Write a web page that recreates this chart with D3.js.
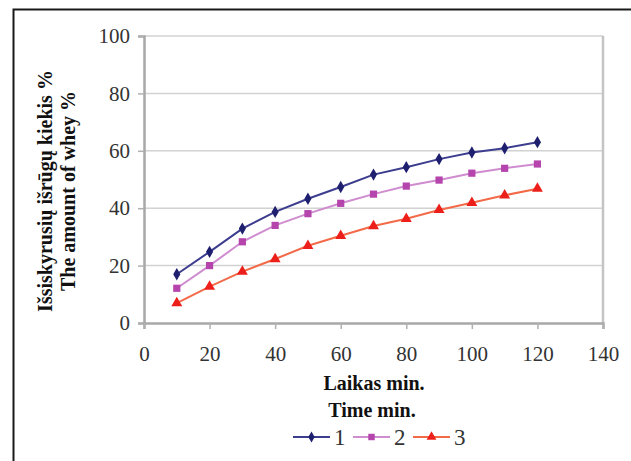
<!DOCTYPE html>
<html>
<head>
<meta charset="utf-8">
<script src="https://cdn.jsdelivr.net/npm/d3@7"></script>
<style>
  body { margin: 0; background: #fff; }
  text { font-family: "Liberation Serif", "Times New Roman", serif; }
</style>
</head>
<body>
<div id="chart"></div>
<script>
// data
var times = [10, 20, 30, 40, 50, 60, 70, 80, 90, 100, 110, 120];
var series1 = [17, 24.8, 32.9, 38.7, 43.3, 47.4, 51.7, 54.3, 57.1, 59.4, 60.9, 63];
var series2 = [12.1, 20, 28.3, 34, 38.1, 41.7, 44.9, 47.7, 49.8, 52.2, 53.9, 55.4];
var series3 = [6.9, 12.7, 17.9, 22.3, 26.9, 30.4, 33.8, 36.3, 39.4, 41.9, 44.5, 46.8];
var seriesNames = ["1", "2", "3"];
var xTicks = [0, 20, 40, 60, 80, 100, 120, 140];
var yTicks = [0, 20, 40, 60, 80, 100];

var W = 631, H = 461;
var plot = {left: 144, top: 36, right: 603, bottom: 323};

var styles = [
  {line: "#3d3d8f", fill: "#1f1f70", shape: d3.symbolDiamond, size: 44},
  {line: "#cf8ccf", fill: "#b545ad", shape: d3.symbolSquare, size: 52},
  {line: "#f26a48", fill: "#ec1f1a", shape: d3.symbolTriangle, size: 52}
];

var svg = d3.select("#chart").append("svg")
  .attr("width", W)
  .attr("height", H);

// outer frame (cut off at right / bottom like the scan)
svg.append("rect")
  .attr("x", 13.5).attr("y", 9.5)
  .attr("width", 640).attr("height", 470)
  .attr("fill", "none")
  .attr("stroke", "#1a1a1a")
  .attr("stroke-width", 2);

var x = d3.scaleLinear().domain([0, 140]).range([plot.left, plot.right]);
var y = d3.scaleLinear().domain([0, 100]).range([plot.bottom, plot.top]);

// grid lines
svg.append("g").selectAll("line")
  .data(yTicks.filter(function(d) { return d > 0; }))
  .enter().append("line")
  .attr("x1", plot.left).attr("x2", plot.right)
  .attr("y1", function(d) { return y(d); })
  .attr("y2", function(d) { return y(d); })
  .attr("stroke", "#d2d2d2")
  .attr("stroke-width", 1.5);

// right border of plot
svg.append("line")
  .attr("x1", plot.right).attr("x2", plot.right)
  .attr("y1", plot.top).attr("y2", plot.bottom)
  .attr("stroke", "#c4c4c4")
  .attr("stroke-width", 2.5);

// axes
var yAxis = d3.axisLeft(y).tickValues(yTicks).tickSize(6).tickPadding(8);
var xAxis = d3.axisBottom(x).tickValues(xTicks).tickSize(6).tickPadding(17);

var gy = svg.append("g")
  .attr("transform", "translate(" + plot.left + ",0)")
  .call(yAxis);
var gx = svg.append("g")
  .attr("transform", "translate(0," + plot.bottom + ")")
  .call(xAxis);

[gx, gy].forEach(function(g) {
  g.select(".domain").attr("stroke", "#a8a8a8").attr("stroke-width", 2.5);
  g.selectAll(".tick line").attr("stroke", "#b0b0b0").attr("stroke-width", 1.5);
  g.selectAll(".tick text")
    .attr("fill", "#333")
    .style("font-size", "21px")
    .style("font-family", "'Liberation Serif', serif");
});

// series
var allSeries = [series1, series2, series3];
var line = d3.line()
  .x(function(d, i) { return x(times[i]); })
  .y(function(d) { return y(d); });

allSeries.forEach(function(vals, k) {
  var st = styles[k];
  svg.append("path")
    .datum(vals)
    .attr("d", line)
    .attr("fill", "none")
    .attr("stroke", st.line)
    .attr("stroke-width", 2);

  svg.append("g").selectAll("path")
    .data(vals)
    .enter().append("path")
    .attr("d", d3.symbol().type(st.shape).size(st.size))
    .attr("transform", function(d, i) {
      return "translate(" + x(times[i]) + "," + y(d) + ")";
    })
    .attr("fill", st.fill);
});

// axis titles
var yTitle = svg.append("text")
  .attr("transform", "translate(52,191) rotate(-90)")
  .attr("text-anchor", "middle")
  .style("font-size", "20px")
  .style("font-weight", "bold")
  .attr("fill", "#111");
yTitle.append("tspan").attr("x", 0).attr("dy", 0).text("Išsiskyrusių išrūgų kiekis %");
yTitle.append("tspan").attr("x", 0).attr("dy", 23).text("The amount of whey %");

svg.append("text")
  .attr("x", 374).attr("y", 390)
  .attr("text-anchor", "middle")
  .style("font-size", "20px")
  .style("font-weight", "bold")
  .attr("fill", "#111")
  .text("Laikas min.");

svg.append("text")
  .attr("x", 372).attr("y", 417)
  .attr("text-anchor", "middle")
  .style("font-size", "20px")
  .style("font-weight", "bold")
  .attr("fill", "#111")
  .text("Time min.");

// legend
var legend = svg.append("g").attr("transform", "translate(293,437)");
seriesNames.forEach(function(name, k) {
  var st = styles[k];
  var g = legend.append("g").attr("transform", "translate(" + (k * 60) + ",0)");
  g.append("line")
    .attr("x1", 0).attr("x2", 37)
    .attr("y1", 0).attr("y2", 0)
    .attr("stroke", st.line)
    .attr("stroke-width", 2);
  g.append("path")
    .attr("d", d3.symbol().type(st.shape).size(st.size * 0.8))
    .attr("transform", "translate(18.5,0)")
    .attr("fill", st.fill);
  g.append("text")
    .attr("x", 41).attr("y", 8)
    .style("font-size", "23px")
    .attr("fill", "#333")
    .text(name);
});
</script>
</body>
</html>
